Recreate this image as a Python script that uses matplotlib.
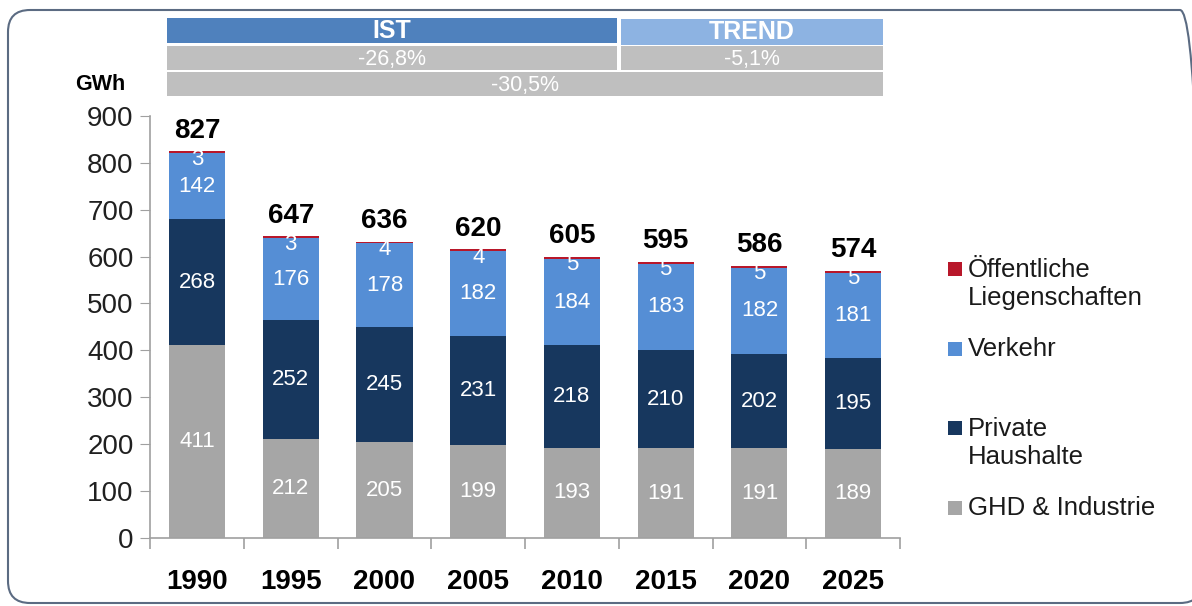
import matplotlib.pyplot as plt
from matplotlib.patches import Rectangle, FancyBboxPatch
import matplotlib.transforms as mtransforms
import numpy as np

plt.rcParams['font.family'] = ['Liberation Sans', 'DejaVu Sans']

jahre = ['1990', '1995', '2000', '2005', '2010', '2015', '2020', '2025']
ghd_industrie = [411, 212, 205, 199, 193, 191, 191, 189]
private_haushalte = [268, 252, 245, 231, 218, 210, 202, 195]
verkehr = [142, 176, 178, 182, 184, 183, 182, 181]
oeffentlich = [3, 3, 4, 4, 5, 5, 5, 5]
summen = [827, 647, 636, 620, 605, 595, 586, 574]

farben = {
    'ghd': '#A6A6A6',
    'privat': '#17375E',
    'verkehr': '#558ED5',
    'oeff': '#B8172A',
}

fig = plt.figure(figsize=(11.92, 6.06), dpi=100)
ax = fig.add_axes([0.126, 0.112, 0.629, 0.697])

x = np.arange(len(jahre))
b = 0.6
ghd = np.array(ghd_industrie)
priv = np.array(private_haushalte)
verk = np.array(verkehr)
oeff = np.array(oeffentlich)

ax.bar(x, ghd, b, color=farben['ghd'])
ax.bar(x, priv, b, bottom=ghd, color=farben['privat'])
ax.bar(x, verk, b, bottom=ghd + priv, color=farben['verkehr'])
ax.bar(x, oeff, b, bottom=ghd + priv + verk, color=farben['oeff'])

oben = ghd + priv + verk + oeff
for i in range(len(x)):
    ax.text(x[i], ghd[i] / 2, str(ghd[i]), ha='center', va='center', color='white', fontsize=16)
    ax.text(x[i], ghd[i] + priv[i] / 2, str(priv[i]), ha='center', va='center', color='white', fontsize=16)
    ax.text(x[i], ghd[i] + priv[i] + verk[i] / 2, str(verk[i]), ha='center', va='center', color='white', fontsize=16)
    ax.text(x[i], oben[i] - 17, str(oeff[i]), ha='center', va='center', color='white', fontsize=16)
    ax.text(x[i], oben[i] + 16, str(summen[i]), ha='center', va='bottom', color='black',
            fontsize=20, fontweight='bold')

ax.set_xlim(-0.5, len(x) - 0.5)
ax.set_ylim(0, 900)
ax.set_yticks(range(0, 901, 100))
ax.tick_params(axis='y', labelsize=20, length=7, color='#A0A0A0', labelcolor='#202020', pad=5)
ax.set_xticks(x)
ax.set_xticklabels(jahre, fontsize=20, fontweight='bold')
ax.tick_params(axis='x', which='major', length=0, pad=22)
ax.set_xticks(np.arange(-0.5, len(x), 1), minor=True)
ax.tick_params(axis='x', which='minor', length=8, color='#A0A0A0', width=1.2)
for s in ['top', 'right']:
    ax.spines[s].set_visible(False)
for s in ['left', 'bottom']:
    ax.spines[s].set_color('#A0A0A0')
    ax.spines[s].set_linewidth(1.2)

fig.text(0.084, 0.86, 'GWh', fontsize=15.5, fontweight='bold', ha='center', va='center')

# Kopfbalken IST / TREND und Veraenderungen
trans = mtransforms.blended_transform_factory(ax.transData, fig.transFigure)
def balken(x0, x1, y0, y1, farbe, text, gross=False):
    ax.add_patch(Rectangle((x0, y0), x1 - x0, y1 - y0, transform=trans, facecolor=farbe,
                           edgecolor='none', clip_on=False))
    if gross:
        ax.text((x0 + x1) / 2, (y0 + y1) / 2, text, transform=trans, ha='center', va='center',
                color='white', fontsize=18, fontweight='bold', clip_on=False)
    else:
        ax.text((x0 + x1) / 2, y0 + (y1 - y0) * 0.42, text, transform=trans, ha='center',
                va='center', color='white', fontsize=15.5, clip_on=False)

balken(-0.32, 4.48, 1 - 43 / 606, 1 - 18 / 606, '#4F81BD', 'IST', True)
balken(4.52, 7.32, 1 - 45 / 606, 1 - 19 / 606, '#8DB3E2', 'TREND', True)
balken(-0.32, 4.48, 1 - 70 / 606, 1 - 46 / 606, '#BFBFBF', '-26,8%')
balken(4.52, 7.32, 1 - 70 / 606, 1 - 46 / 606, '#BFBFBF', '-5,1%')
balken(-0.32, 7.32, 1 - 96 / 606, 1 - 72 / 606, '#BFBFBF', '-30,5%')

# Legende
legende = [
    ('oeff', 'Öffentliche\nLiegenschaften', 284),
    ('verkehr', 'Verkehr', 349),
    ('privat', 'Private\nHaushalte', 443),
    ('ghd', 'GHD & Industrie', 508),
]
for key, label, ypx in legende:
    erste = ypx - 15 if '\n' in label else ypx
    fig.patches.append(Rectangle((948 / 1192, 1 - (erste + 7) / 606), 14 / 1192, 14 / 606,
                                 transform=fig.transFigure, facecolor=farben[key],
                                 edgecolor='none'))
    fig.text(968 / 1192, 1 - ypx / 606, label, fontsize=18.5, ha='left', va='center',
             color='#1a1a1a', linespacing=1.2)

# Rahmen in Pixelkoordinaten
fig.patches.append(FancyBboxPatch((8, 3), 1194, 593,
                                  boxstyle='round,pad=0,rounding_size=22',
                                  transform=mtransforms.IdentityTransform(), facecolor='none',
                                  edgecolor='#5B6B82', linewidth=1.5))

fig.savefig('out.png', dpi=100)
